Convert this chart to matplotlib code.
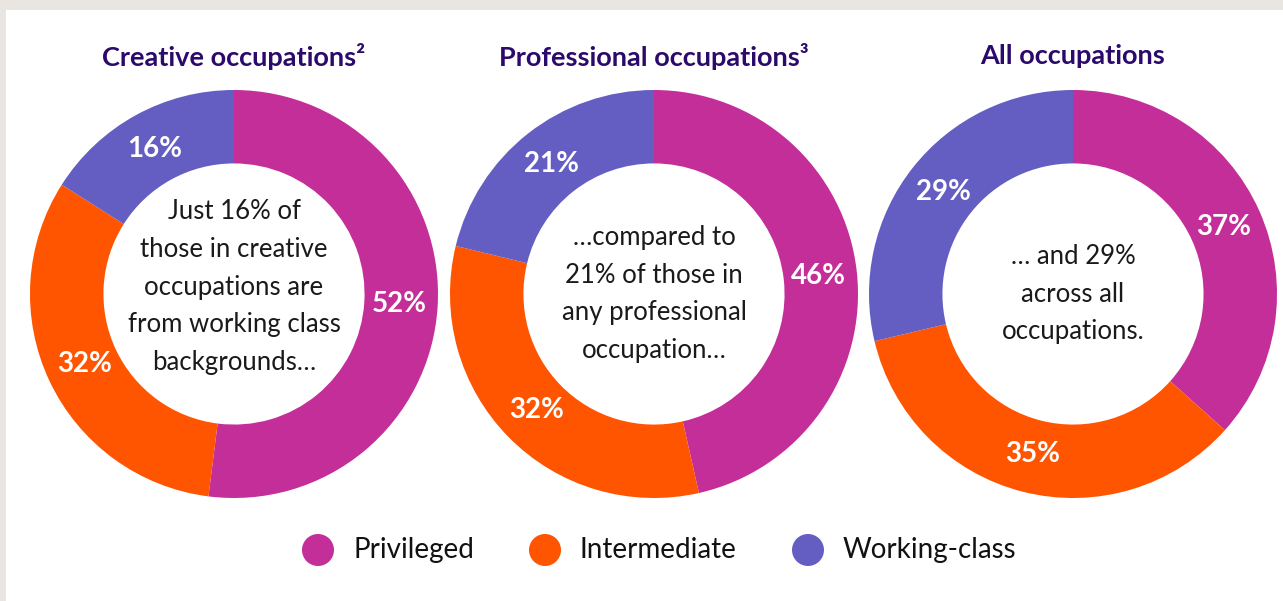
import matplotlib.pyplot as plt
from matplotlib.patches import Rectangle, Circle

plt.rcParams['font.family'] = ['Lato', 'DejaVu Sans']

# data
groups = ["Creative occupations\u00b2", "Professional occupations\u00b3", "All occupations"]
categories = ["Privileged", "Intermediate", "Working-class"]
privileged = [52, 46, 37]
intermediate = [32, 32, 35]
working_class = [16, 21, 29]
notes = [
    "Just 16% of\nthose in creative\noccupations are\nfrom working class\nbackgrounds\u2026",
    "\u2026compared to\n21% of those in\nany professional\noccupation\u2026",
    "\u2026 and 29%\nacross all\noccupations.",
]

colors = ["#C42E99", "#FF5400", "#645EC3"]
title_color = "#2C0A6B"

W, H = 1283, 601
fig = plt.figure(figsize=(W / 100, H / 100), dpi=100, facecolor="#E9E6E1")
ax = fig.add_axes([0, 0, 1, 1])

# white panel
ax.add_patch(Rectangle((6, 0), W - 6, H - 10, facecolor="white", edgecolor="none", zorder=0))

centers_x = [234, 654, 1073]
cy = H - 294
R = 204
ring = 0.36

for i in range(3):
    vals = [privileged[i], intermediate[i], working_class[i]]
    wedges, _, autotexts = ax.pie(
        vals, colors=colors, startangle=90, counterclock=False,
        center=(centers_x[i], cy), radius=R,
        wedgeprops=dict(width=R * ring, linewidth=0),
        autopct=lambda p: f"{round(p):.0f}%", pctdistance=0.81,
        textprops=dict(color="white", fontsize=20, fontweight="bold"),
        frame=True,
    )
    ax.text(centers_x[i], H - 56, groups[i], ha="center", va="center",
            fontsize=19.5, fontweight="bold", color=title_color)
    ty = cy + (7 if i == 0 else 0)
    ax.text(centers_x[i], ty, notes[i], ha="center", va="center",
            fontsize=18.5, color="#1A1A1A", linespacing=1.64)

# legend
leg_x = [318, 545, 808]
leg_y = H - 550
for x, c, lab in zip(leg_x, colors, categories):
    ax.add_patch(Circle((x, leg_y), 16, facecolor=c, edgecolor="none"))
    ax.text(x + 35, leg_y, lab, ha="left", va="center", fontsize=20, color="#111111")

ax.set_xlim(0, W)
ax.set_ylim(0, H)
ax.set_aspect("equal")
ax.axis("off")

fig.savefig("out.png", dpi=100, facecolor=fig.get_facecolor())
